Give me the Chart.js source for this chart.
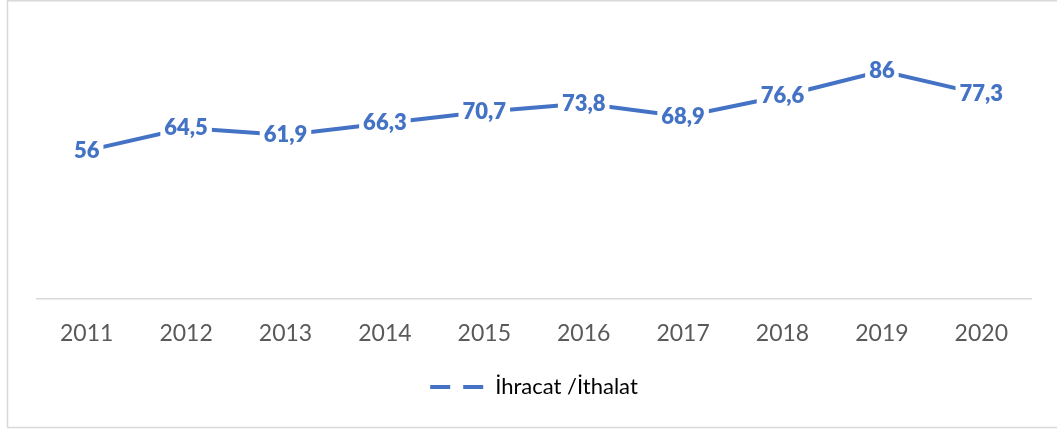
<!DOCTYPE html>
<html>
<head>
<meta charset="utf-8">
<script src="https://cdn.jsdelivr.net/npm/chart.js@4.4.1/dist/chart.umd.min.js"></script>
<style>
html,body{margin:0;padding:0;background:#fff;}
#wrap{position:relative;width:1057px;height:430px;}
</style>
</head>
<body>
<div id="wrap"><canvas id="c" width="1057" height="430"></canvas></div>
<script>
const years = ["2011","2012","2013","2014","2015","2016","2017","2018","2019","2020"];
const ratio = [56, 64.5, 61.9, 66.3, 70.7, 73.8, 68.9, 76.6, 86, 77.3];
const seriesName = "İhracat /İthalat";
const blue = "#4472C4";
const grey = "#595959";

const frame = {
  id: 'frame',
  beforeDraw(chart) {
    const ctx = chart.ctx;
    ctx.save();
    ctx.fillStyle = '#fff';
    ctx.fillRect(0, 0, chart.width, chart.height);
    ctx.strokeStyle = '#d9d9d9';
    ctx.lineWidth = 1.5;
    ctx.beginPath();
    ctx.moveTo(chart.width, 0.75); ctx.lineTo(7.5, 0.75); ctx.lineTo(7.5, 427.5); ctx.lineTo(chart.width, 427.5);
    ctx.stroke();
    ctx.restore();
  }
};

const labels = {
  id: 'valueLabels',
  afterDatasetsDraw(chart) {
    const ctx = chart.ctx;
    const meta = chart.getDatasetMeta(0);
    ctx.save();
    ctx.font = '800 22px Lato';
    ctx.textAlign = 'center';
    ctx.textBaseline = 'middle';
    meta.data.forEach((pt, i) => {
      const txt = String(chart.data.datasets[0].data[i]).replace('.', ',');
      const w = ctx.measureText(txt).width;
      ctx.fillStyle = '#fff';
      ctx.fillRect(pt.x - w / 2 - 4, pt.y - 12, w + 8, 24);
      ctx.fillStyle = blue;
      ctx.fillText(txt, pt.x, pt.y);
    });
    ctx.restore();
  }
};

new Chart(document.getElementById('c'), {
  type: 'line',
  data: {
    labels: years,
    datasets: [{
      label: seriesName,
      data: ratio,
      borderColor: blue,
      backgroundColor: blue,
      borderWidth: 4,
      pointRadius: 0,
      tension: 0,
      fill: false
    }]
  },
  options: {
    responsive: false,
    animation: false,
    layout: { padding: { left: 37, right: 26, top: 34, bottom: 22 } },
    scales: {
      x: {
        offset: true,
        grid: { display: false, drawTicks: false },
        border: { display: true, color: '#d9d9d9', width: 1.5 },
        ticks: { color: grey, font: { family: 'Lato', size: 23 }, padding: 21, maxRotation: 0 },
        afterFit: (s) => { s.height = 67; }
      },
      y: {
        display: false,
        min: 0,
        max: 100
      }
    },
    plugins: {
      legend: {
        position: 'bottom',
        labels: {
          color: grey,
          font: { family: 'Lato', size: 22 },
          usePointStyle: true,
          pointStyleWidth: 54,
          padding: 10,
          generateLabels: (chart) => [{
            text: seriesName,
            fillStyle: blue,
            strokeStyle: blue,
            lineWidth: 4,
            lineDash: [20, 13],
            pointStyle: 'line',
            datasetIndex: 0,
            hidden: false
          }]
        }
      },
      tooltip: { enabled: false }
    }
  },
  plugins: [frame, labels]
});
</script>
</body>
</html>
